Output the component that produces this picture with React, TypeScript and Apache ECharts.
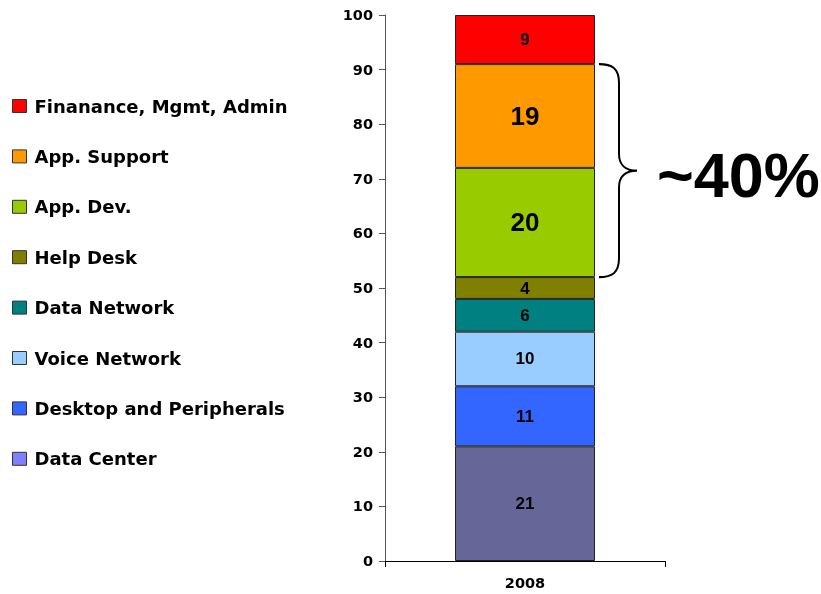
import React, { useEffect, useRef } from "react";
import * as echarts from "echarts";

const categories = ["2008"];
const seriesNames = [
  "Data Center",
  "Desktop and Peripherals",
  "Voice Network",
  "Data Network",
  "Help Desk",
  "App. Dev.",
  "App. Support",
  "Finanance, Mgmt, Admin",
];
const seriesValues = [21, 11, 10, 6, 4, 20, 19, 9];
const barColors = ["#666699", "#3366FF", "#99CCFF", "#008080", "#808000", "#99CC00", "#FF9900", "#FF0000"];
const legendColors = ["#8080FF", "#3366FF", "#99CCFF", "#008080", "#808000", "#99CC00", "#FF9900", "#FF0000"];
const labelSizes = [17, 17, 17, 17, 17, 26, 26, 17];
const braceRange = [52, 91];
const braceText = "~40%";

const FONT = "Liberation Sans, Arial, sans-serif";
const WIDE_FONT = "DejaVu Sans, Verdana, sans-serif";

// curly brace, drawn in a 40 x 204 box, tip pointing right
const BRACE_D =
  "M0,0 C13,0 20,4 20,18 L20,86 C20,96 26,102 38,102 C26,102 20,108 20,118 L20,186 C20,200 13,204 0,204";
echarts.graphic.registerShape("brace", echarts.graphic.extendPath(BRACE_D, {}) as any);

export default function App() {
  const ref = useRef<HTMLDivElement>(null);

  useEffect(() => {
    if (!ref.current) return;
    const chart = echarts.init(ref.current, undefined, { renderer: "svg" });

    const series = seriesNames.map((name, i) => ({
      name,
      type: "bar",
      stack: "total",
      barWidth: "50%",
      data: [seriesValues[i]],
      itemStyle: { color: barColors[i], borderColor: "#222", borderWidth: 1 },
      label: {
        show: true,
        position: "inside",
        color: "#000",
        fontFamily: FONT,
        fontWeight: "bold",
        fontSize: labelSizes[i],
      },
    }));

    chart.setOption({
      animation: false,
      textStyle: { fontFamily: FONT },
      grid: { left: 385, top: 15, width: 280, bottom: 33 },
      legend: {
        orient: "vertical",
        left: 7,
        top: 92,
        itemWidth: 14,
        itemHeight: 13,
        itemGap: 32.4,
        icon: "rect",
        textStyle: {
          fontFamily: WIDE_FONT,
          fontWeight: "bold",
          fontSize: 18,
          color: "#000",
          padding: [0, 0, 0, 3],
        },
        data: seriesNames
          .map((name, i) => ({
            name,
            itemStyle: { color: legendColors[i], borderColor: "#333", borderWidth: 1 },
          }))
          .reverse(),
      },
      xAxis: {
        type: "category",
        data: categories,
        axisLine: { lineStyle: { color: "#000", width: 1 } },
        axisTick: { show: true, length: 6, lineStyle: { color: "#000" } },
        axisLabel: { fontFamily: WIDE_FONT, fontWeight: "bold", fontSize: 14.5, color: "#000", margin: 14 },
      },
      yAxis: {
        type: "value",
        min: 0,
        max: 100,
        interval: 10,
        axisLine: { show: true, lineStyle: { color: "#555", width: 1 } },
        axisTick: { show: true, length: 6, lineStyle: { color: "#555" } },
        splitLine: { show: false },
        axisLabel: { fontFamily: WIDE_FONT, fontWeight: "bold", fontSize: 14.5, color: "#000", margin: 12 },
      },
      series,
    });

    const [, yBottom] = chart.convertToPixel({ gridIndex: 0 }, [0, braceRange[0]]);
    const [xBar, yTop] = chart.convertToPixel({ gridIndex: 0 }, [0, braceRange[1]]);
    const barRight = xBar + 70;
    const h = yBottom - yTop;
    chart.setOption({
      graphic: [
        {
          type: "brace",
          x: barRight + 4,
          y: yTop,
          scaleX: 1,
          scaleY: h / 204,
          style: { fill: null, stroke: "#000", lineWidth: 2 },
        },
        {
          type: "text",
          x: 657,
          y: (yTop + yBottom) / 2 + 4,
          style: {
            text: braceText,
            fontFamily: FONT,
            fontWeight: "bold",
            fontSize: 63,
            fill: "#000",
            verticalAlign: "middle",
          },
        },
      ],
    });

    return () => chart.dispose();
  }, []);

  return <div ref={ref} style={{ position: "fixed", left: 0, top: 0, width: 821, height: 594 }} />;
}
